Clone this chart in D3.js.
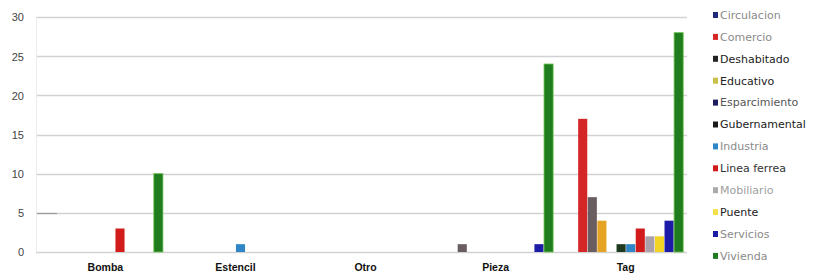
<!DOCTYPE html>
<html>
<head>
<meta charset="utf-8">
<script src="https://cdn.jsdelivr.net/npm/d3@7"></script>
<style>
  html, body { margin: 0; padding: 0; background: #fff; }
  svg { display: block; font-family: "Open Sans", "DejaVu Sans", sans-serif; }
</style>
</head>
<body>
<svg id="chart" width="819" height="277"></svg>
<script>
// ---- data ----
const categories = ["Bomba", "Estencil", "Otro", "Pieza", "Tag"];
const seriesNames = ["Circulacion", "Comercio", "Deshabitado", "Educativo", "Esparcimiento",
  "Gubernamental", "Industria", "Linea ferrea", "Mobiliario", "Puente", "Servicios", "Vivienda"];
// values per series, in category order [Bomba, Estencil, Otro, Pieza, Tag]
const circulacion   = [0, 0, 0, 0, 0];
const comercio      = [0, 0, 0, 0, 17];
const deshabitado   = [0, 0, 0, 1, 7];
const educativo     = [0, 0, 0, 0, 4];
const esparcimiento = [0, 0, 0, 0, 0];
const gubernamental = [0, 0, 0, 0, 1];
const industria     = [0, 1, 0, 0, 1];
const lineaFerrea   = [3, 0, 0, 0, 3];
const mobiliario    = [0, 0, 0, 0, 2];
const puente        = [0, 0, 0, 0, 2];
const servicios     = [0, 0, 0, 1, 4];
const vivienda      = [10, 0, 0, 24, 28];
const yTicks = [0, 5, 10, 15, 20, 25, 30];

const seriesValues = [circulacion, comercio, deshabitado, educativo, esparcimiento,
  gubernamental, industria, lineaFerrea, mobiliario, puente, servicios, vivienda];

// ---- styles ----
const barColors = ["#1f2a7a", "#d42626", "#6a5d5f", "#e6a425", "#1c1c5e", "#1d3a1f",
  "#2f86c6", "#d21c1c", "#aaa1aa", "#f3d324", "#1c1ca6", "#1f7d1f"];
const legendMarkColors = ["#1f2a7a", "#d42626", "#222222", "#c9c04a", "#1c1c5e", "#1a1a1a",
  "#2f86c6", "#d21c1c", "#aaaaaa", "#f3e04a", "#1c1ca6", "#1f7d1f"];
const legendTextColors = ["#8a8a8a", "#8a8a8a", "#222", "#222", "#555", "#222",
  "#8a8a8a", "#333", "#a0a0a0", "#222", "#8a8a8a", "#8a8a8a"];

const svg = d3.select("#chart");
const plotLeft = 36, plotRight = 687, plotTop = 17, plotBottom = 252;

const x0 = d3.scaleBand().domain(categories).range([40, 691]).paddingInner(0.115).paddingOuter(0.06);
const x1 = d3.scaleBand().domain(seriesNames).range([0, x0.bandwidth()]).padding(0.0);
const y = d3.scaleLinear().domain([0, 30]).range([plotBottom, plotTop]);

// gridlines
const grid = svg.append("g");
grid.selectAll("line").data(yTicks).join("line")
  .attr("x1", plotLeft).attr("x2", plotRight)
  .attr("y1", d => Math.round(y(d)) + 0.5).attr("y2", d => Math.round(y(d)) + 0.5)
  .attr("stroke", "#d2d2d2").attr("stroke-width", 1.3);
// darker stub on the 5 line at the left edge
svg.append("line").attr("x1", plotLeft).attr("x2", plotLeft + 21)
  .attr("y1", Math.round(y(5)) + 0.5).attr("y2", Math.round(y(5)) + 0.5)
  .attr("stroke", "#9a9a9a").attr("stroke-width", 1.2);
// faint vertical axis
svg.append("line").attr("x1", plotLeft + 0.5).attr("x2", plotLeft + 0.5)
  .attr("y1", plotTop).attr("y2", plotBottom).attr("stroke", "#ececec");

// y axis labels
const yAxis = d3.axisLeft(y).tickValues(yTicks).tickSize(0).tickPadding(0);
const gy = svg.append("g").attr("transform", "translate(24,0)").call(yAxis);
gy.select(".domain").remove();
gy.selectAll("text").attr("text-anchor", "end").attr("fill", "#444")
  .style("font-size", "11px").attr("dy", "0.35em");

// bars
const groups = svg.append("g").selectAll("g").data(categories).join("g")
  .attr("transform", d => `translate(${x0(d)},0)`);
groups.selectAll("rect")
  .data((c, ci) => seriesNames.map((s, si) => ({ s, si, v: seriesValues[si][ci] })).filter(d => d.v > 0))
  .join("rect")
  .attr("x", d => x1(d.s) + 0.5)
  .attr("width", x1.bandwidth() - 0.5)
  .attr("y", d => y(d.v))
  .attr("height", d => y(0) - y(d.v))
  .attr("fill", d => barColors[d.si])
  .attr("stroke", d => d.s === "Vivienda" ? "#6cc24f" : "none")
  .attr("stroke-width", 0.8);

// x axis labels
const xAxis = d3.axisBottom(x0).tickSize(0).tickPadding(0);
const gx = svg.append("g").attr("transform", `translate(0,${plotBottom + 14})`).call(xAxis);
gx.select(".domain").remove();
gx.selectAll("text").attr("fill", "#111").style("font-size", "10.5px").style("font-weight", "bold")
  .attr("dy", "0.5em");

// legend
const legend = svg.append("g").attr("transform", "translate(713,0)");
const items = legend.selectAll("g").data(seriesNames).join("g")
  .attr("transform", (d, i) => `translate(0,${15 + i * 21.9})`);
items.append("rect").attr("x", 0).attr("y", -3).attr("width", 5).attr("height", 6)
  .attr("fill", (d, i) => legendMarkColors[i]);
items.append("text").attr("x", 7).attr("y", 0).attr("dy", "0.35em")
  .style("font-family", "'DejaVu Sans', sans-serif")
  .style("font-size", "11px").attr("fill", (d, i) => legendTextColors[i])
  .text(d => d);
</script>
</body>
</html>
